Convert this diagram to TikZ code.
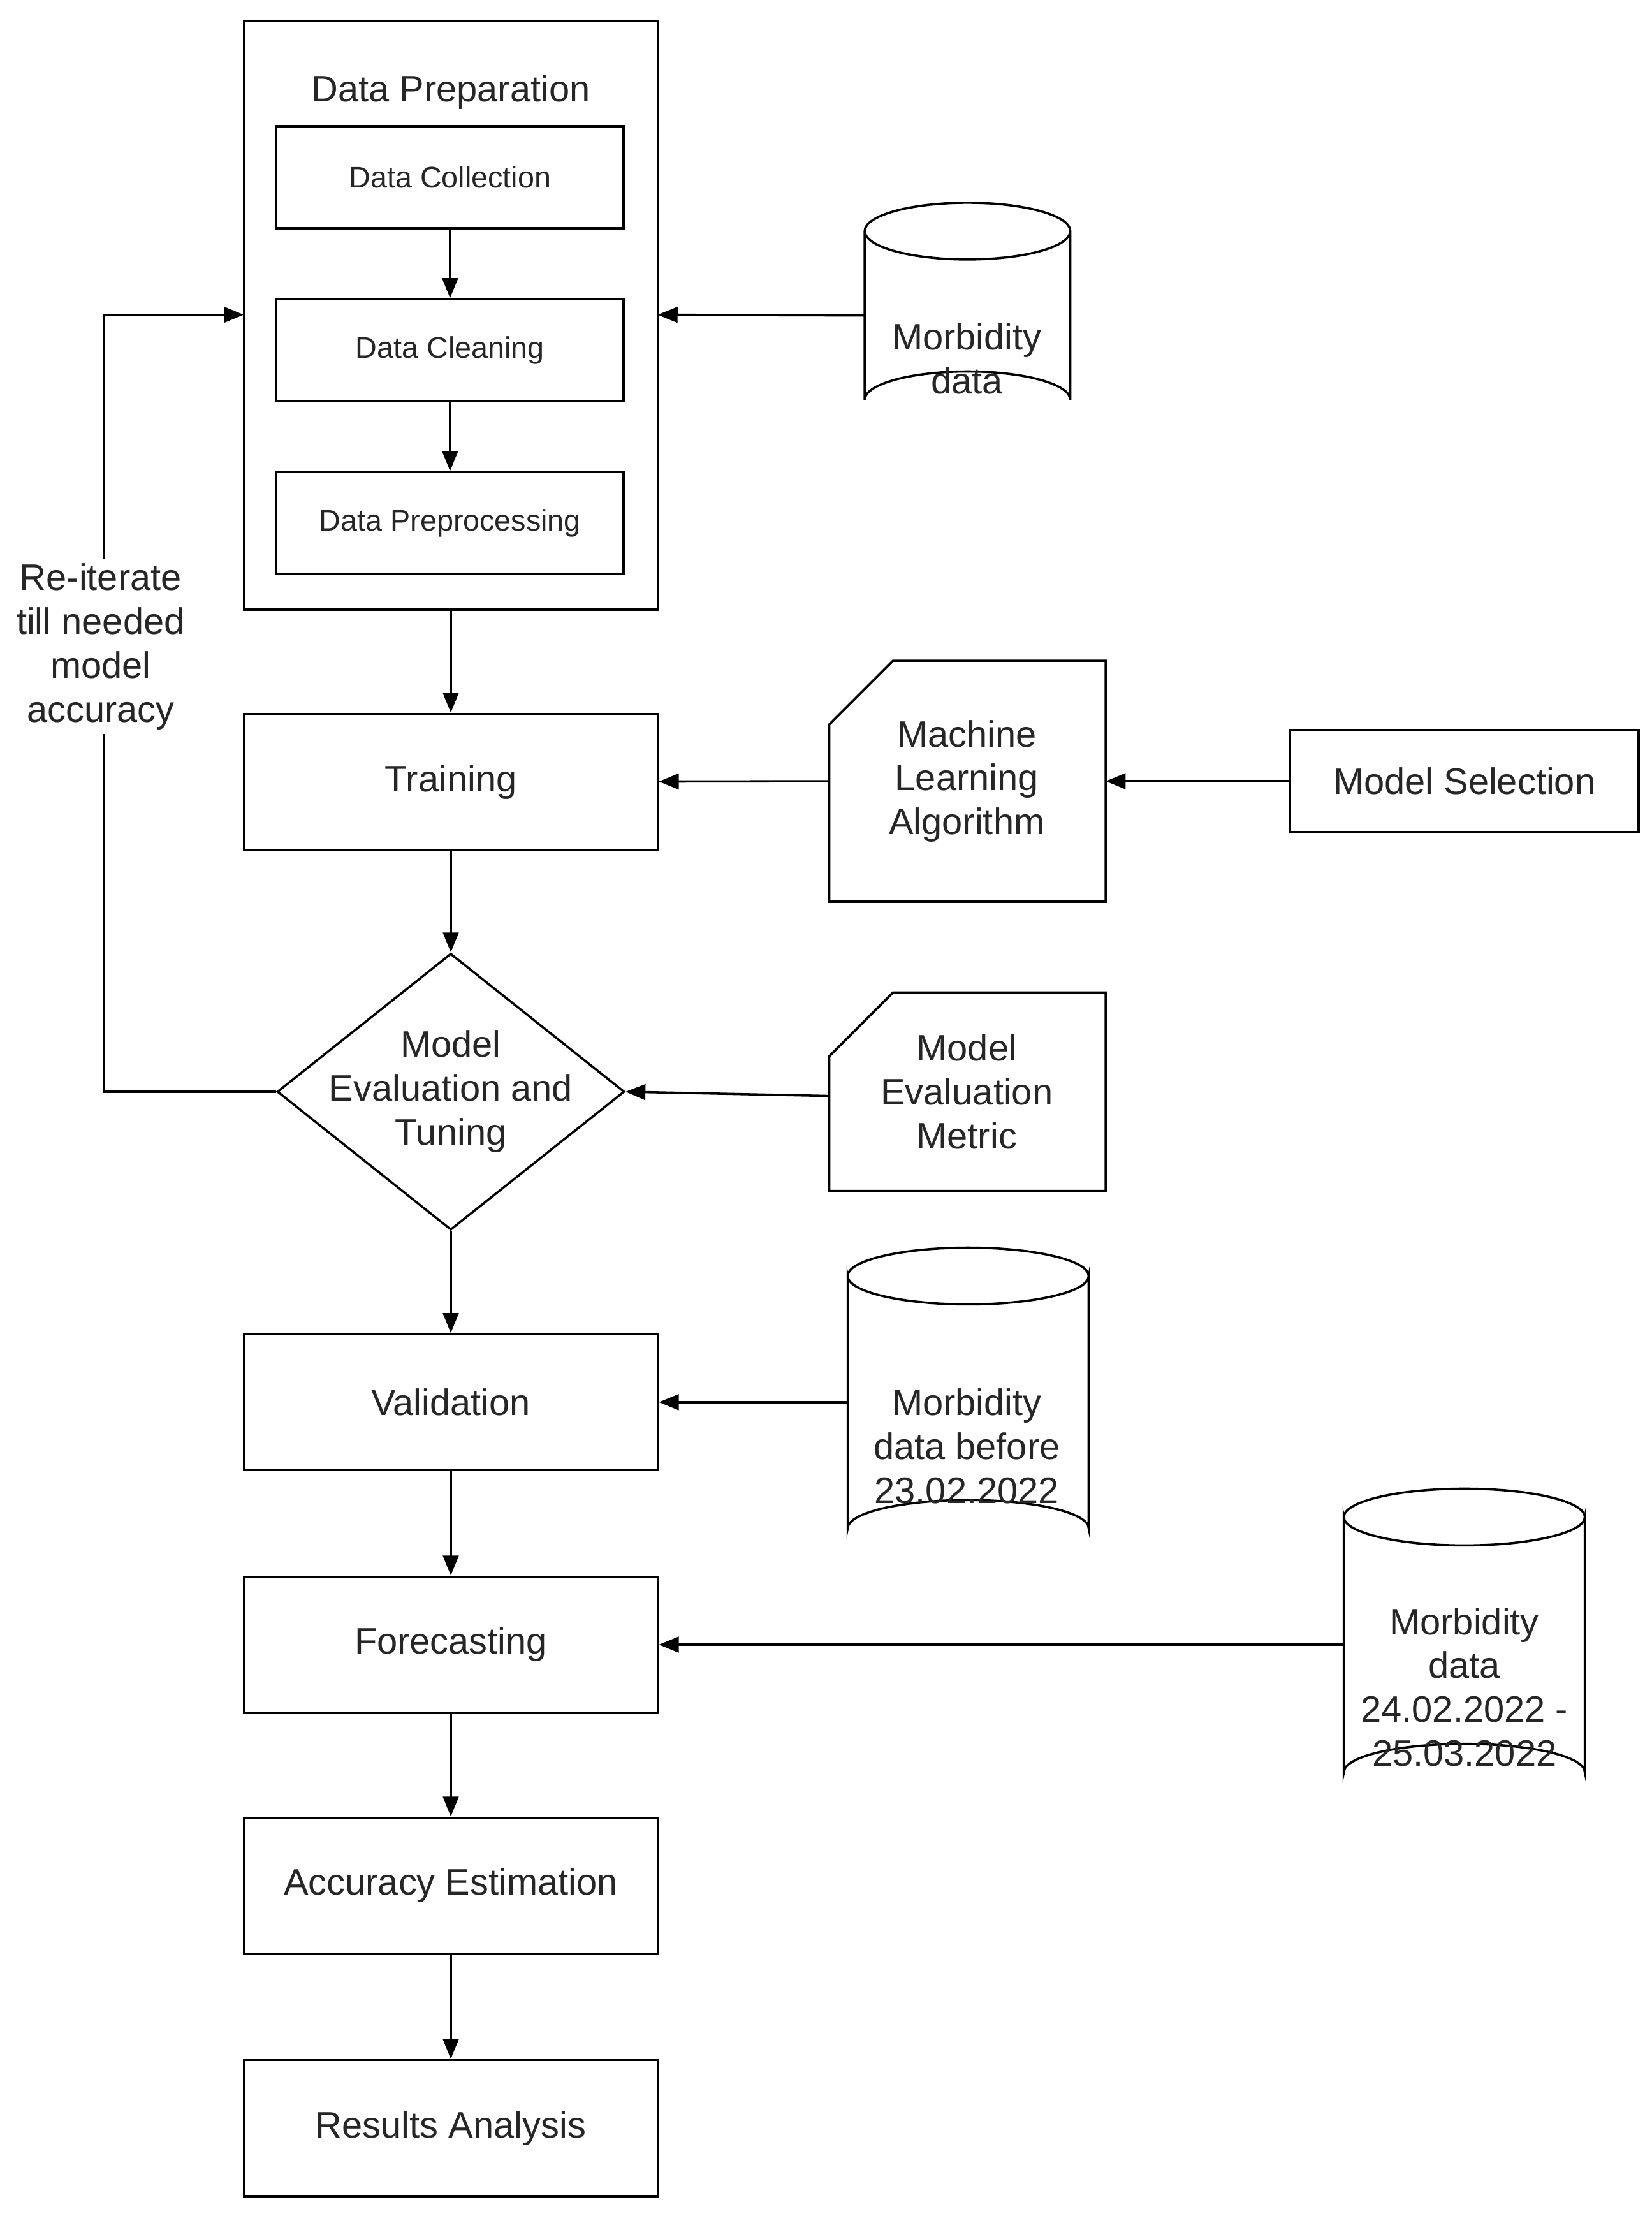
\documentclass[tikz,border=0pt]{standalone}
\usepackage{fontspec}
\setmainfont{Liberation Sans}
\usetikzlibrary{shapes.geometric,arrows.meta}
\begin{document}
\begin{tikzpicture}[x=1pt,y=-1pt,
  every node/.style={font=\fontsize{26}{31}\selectfont,text=black!85,align=center,inner sep=0pt},
  box/.style={draw,line width=1.6pt,minimum width=292pt,minimum height=96pt},
  sbox/.style={draw,line width=1.6pt,minimum width=245pt,minimum height=72pt,font=\fontsize{21}{25}\selectfont},
  arr/.style={line width=1.6pt,-{Triangle[length=14pt,width=11pt]}},
  ln/.style={line width=1.6pt}]
\useasboundingbox (0,0) rectangle (1165,1563);
% data preparation
\draw[ln] (172,15) rectangle (464,430);
\coordinate (dpw) at (172,222); \coordinate (dpe) at (464,222);
\coordinate (dps) at (318,430);
\node at (318,65) {Data Preparation};
\node[sbox] (dc) at (317.5,125) {Data Collection};
\node[sbox] (dcl) at (317.5,247) {Data Cleaning};
\node[sbox] (dpp) at (317.5,369) {Data Preprocessing};
\draw[arr] (dc) -- (dcl);
\draw[arr] (dcl) -- (dpp);
% cylinders
\newcommand{\mycyl}[5]{% xl xr ytop ybot name
  \draw[ln,fill=white] (#1,#3+20) -- (#1,#4-20) arc[start angle=180,end angle=360,x radius={(#2-#1)/2},y radius=20] -- (#2,#3+20) arc[start angle=0,end angle=180,x radius={(#2-#1)/2},y radius=20] -- cycle;
  \draw[ln] (#1,#3+20) arc[start angle=180,end angle=360,x radius={(#2-#1)/2},y radius=20];
  \coordinate (#5) at (#1,{(#3+#4)/2});}
\mycyl{610}{755}{143}{302}{md1}
\node at (682,253) {Morbidity\\data};
\draw[arr] (md1) -- (dpe);
% training
\node[box] (tr) at (318,551.5) {Training};
\draw[arr] (dps) -- (tr);
% ML algorithm card
\draw[ln] (630,466) -- (780,466) -- (780,636) -- (585,636) -- (585,511) -- cycle;
\node (ml) at (682,551) {Machine\\Learning\\Algorithm};
\coordinate (mlw) at (585,551); \coordinate (mle) at (780,551);
\node[draw,line width=1.6pt,minimum width=246pt,minimum height=72pt] (ms) at (1033,551) {Model Selection};
\draw[arr] (ms) -- (mle);
\draw[arr] (mlw) -- (tr);
% diamond
\node[diamond,draw,line width=1.6pt,minimum width=245pt,minimum height=195pt,aspect=1.256] (ev) at (318,770) {};
\node at (318,770) {Model\\Evaluation and\\Tuning};
\draw[arr] (tr) -- (ev);
\draw[ln] (630,700) -- (780,700) -- (780,840) -- (585,840) -- (585,745) -- cycle;
\node at (682,770) {Model\\Evaluation\\Metric};
\coordinate (mem) at (585,773);
\draw[arr] (mem) -- (ev.east);
% loop
\coordinate (lb) at (73,770); \coordinate (lt) at (73,222);
\draw[ln] (ev.west) -- (lb) -- (lt);
\draw[arr] (lt) -- (dpw);
\node[fill=white,inner sep=3pt] at (71,456) {Re-iterate\\till needed\\model\\accuracy};
% validation
\node[box] (va) at (318,989) {Validation};
\draw[arr] (ev) -- (va);
\mycyl{598}{768}{880}{1098}{md2}
\node at (682,1020) {Morbidity\\data before\\23.02.2022};
\draw[arr] (md2) -- (va);
% forecasting
\node[box] (fo) at (318,1160) {Forecasting};
\draw[arr] (va) -- (fo);
\mycyl{948}{1118}{1050}{1270}{md3}
\node at (1033,1190) {Morbidity\\data\\24.02.2022 -\\25.03.2022};
\draw[arr] (md3) -- (fo);
% accuracy, results
\node[box] (ac) at (318,1330) {Accuracy Estimation};
\draw[arr] (fo) -- (ac);
\node[box] (ra) at (318,1501) {Results Analysis};
\draw[arr] (ac) -- (ra);
\end{tikzpicture}
\end{document}
